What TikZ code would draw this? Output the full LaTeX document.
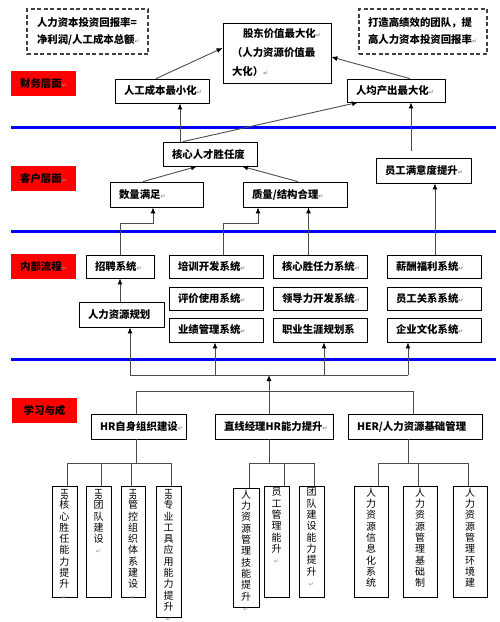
\documentclass[tikz,border=0pt]{standalone}
\usepackage{fontspec}
\usepackage{graphicx}
\setmainfont{Noto Sans CJK SC}
\newfontfamily\dvs{DejaVu Sans}
\usetikzlibrary{arrows.meta,calc}
\definecolor{lblue}{RGB}{0,0,255}
\newcommand\pmk{{\dvs\fontsize{6}{6}\selectfont\textcolor{black!45}{↵}}}
\newcommand\hrr{\rotatebox[origin=c]{-90}{\fontsize{9}{9}\selectfont HR}}
\newcommand\bx[6]{\node[box,minimum width={#4-#2},minimum height={#5-#3}] (#1) at ({(#2+#4)/2},{(#3+#5)/2}) {\makebox[\dimexpr #4pt-#2pt-18pt\relax][l]{#6}};}
\newcommand\lbx[6]{\node[lab,minimum width={#4-#2},minimum height={#5-#3}] (#1) at ({(#2+#4)/2},{(#3+#5)/2}) {#6};}
\newcommand\vbx[6]{\node[vbox,minimum width={#4-#2},minimum height={#5-#3}] (#1) at ({(#2+#4)/2},{(#3+#5)/2}) {\parbox[c][\dimexpr #5pt-#3pt-2pt\relax][t]{\dimexpr #4pt-#2pt\relax}{\centering\vspace*{1pt}#6}};}
\begin{document}
\begin{tikzpicture}[x=1pt,y=-1pt,
  box/.style={draw=black,line width=0.8pt,fill=white,inner sep=0pt,font=\bfseries\fontsize{10.4}{12}\selectfont},
  dbox/.style={draw=black!75,dash pattern=on 4pt off 2.5pt,line width=1.2pt,inner sep=0pt,font=\bfseries\fontsize{10.4}{17}\selectfont},
  lab/.style={fill=red,inner sep=0pt,font=\bfseries\fontsize{10.4}{12}\selectfont},
  vbox/.style={draw=black,line width=0.8pt,fill=white,inner sep=0pt,font=\fontsize{10}{11.3}\selectfont},
  conn/.style={draw=black!70,line width=0.9pt},
  arr/.style={conn,-{Latex[length=6pt,width=5pt,color=black]}},
  band/.style={draw=lblue,line width=3pt}]
\useasboundingbox (0,0) rectangle (500,622);
% blue bands
\coordinate (bL1) at (11,127); \coordinate (bR1) at (496,127);
\coordinate (bL2) at (11,231); \coordinate (bR2) at (496,231);
\coordinate (bL3) at (11,359); \coordinate (bR3) at (496,359);
\draw[band] (bL1) -- (bR1);
\draw[band] (bL2) -- (bR2);
\draw[band] (bL3) -- (bR3);
% helper levels
\coordinate (yA) at (0,223);
\coordinate (yB) at (0,375);
\coordinate (yC) at (0,391);
\coordinate (yD) at (0,463);
% dashed notes
\node[dbox,minimum width=121,minimum height=45,text width=101,align=left] (d1) at (87.5,31.5) {人力资本投资回报率=\\净利润/人工成本总额\pmk};
\node[dbox,minimum width=128,minimum height=45,text width=110,align=left] (d2) at (423,31.5) {打造高绩效的团队，提\\高人力资本投资回报率\pmk};
% top box
\node[box,minimum width=108,minimum height=60,text width=90,align=left,font=\bfseries\fontsize{10.4}{19}\selectfont] (gd) at (277,53) {\hspace*{11pt}股东价值最大化\pmk\\（人力资源价值最\\大化）\pmk};
% labels
\lbx{lab1}{11}{71}{76}{96}{财务层面\pmk}
\lbx{lab2}{11}{166}{76}{191}{客户层面\pmk}
\lbx{lab3}{11}{254}{76}{279}{内部流程\pmk}
\lbx{lab4}{12}{398}{77}{423}{学习与成}
% boxes
\bx{rgcb}{115}{79}{209}{103}{人工成本最小化\pmk}
\bx{rjcc}{347}{79}{445}{102}{人均产出最大化\pmk}
\bx{hxrc}{163}{142}{257}{166}{核心人才胜任度}
\bx{slmz}{110}{182}{203}{207}{数量满足\pmk}
\bx{zljg}{243}{182}{347}{207}{质量/结构合理\pmk}
\bx{ygmy}{376}{158}{471}{183}{员工满意度提升\pmk}
\bx{zp}{86}{255}{154}{278}{招聘系统\pmk}
\bx{px}{169}{255}{263}{278}{培训开发系统\pmk}
\bx{pj}{169}{287}{263}{310}{评价使用系统\pmk}
\bx{yj}{169}{318}{263}{342}{业绩管理系统\pmk}
\bx{hxs}{273}{255}{367}{278}{核心胜任力系统\pmk}
\bx{ld}{273}{287}{367}{310}{领导力开发系统\pmk}
\bx{zy}{273}{318}{367}{342}{职业生涯规划系}
\bx{xc}{387}{255}{481}{278}{薪酬福利系统\pmk}
\bx{yg}{387}{287}{481}{310}{员工关系系统\pmk}
\bx{qy}{387}{318}{481}{342}{企业文化系统\pmk}
\bx{gh}{79}{302}{164}{327}{人力资源规划}
\bx{hrz}{91}{414}{186}{439}{HR自身组织建设\pmk}
\bx{zx}{215}{414}{333}{439}{直线经理HR能力提升\pmk}
\bx{her}{348}{414}{482}{439}{HER/人力资源基础管理}
% vertical boxes
\vbx{b1}{52}{486}{77}{597}{\hrr\\核\\心\\胜\\任\\能\\力\\提\\升\\\pmk}
\vbx{b2}{86}{486}{111}{597}{\hrr\\团\\队\\建\\设\\\pmk}
\vbx{b3}{121}{486}{145}{597}{\hrr\\管\\控\\组\\织\\体\\系\\建\\设\\\pmk}
\vbx{b4}{156}{486}{181}{617}{\hrr\\专\\业\\工\\具\\应\\用\\能\\力\\提\\升\\\pmk}
\vbx{m1}{233}{488}{259}{607}{人\\力\\资\\源\\管\\理\\技\\能\\提\\升\\\pmk}
\vbx{m2}{264}{486}{289}{597}{员\\工\\管\\理\\能\\升\\\pmk}
\vbx{m3}{299}{486}{324}{597}{团\\队\\建\\设\\能\\力\\提\\升\\\pmk}
\vbx{r1}{354}{486}{388}{597}{人\\力\\资\\源\\信\\息\\化\\系\\统}
\vbx{r2}{403}{486}{437}{597}{人\\力\\资\\源\\管\\理\\基\\础\\制}
\vbx{r3}{453}{486}{487}{597}{人\\力\\资\\源\\管\\理\\环\\境\\建}
% top connectors
\draw[arr] ([xshift=-6pt]rgcb.north) -- ([yshift=5pt]gd.west);
\draw[arr] ([xshift=14pt]rjcc.north) -- ([yshift=-4pt]gd.east);
\draw[arr] ([xshift=-30pt]hxrc.north) -- ([xshift=18pt]rgcb.south);
\draw[arr] ([xshift=-27pt]hxrc.north) -- ([xshift=-38pt]rjcc.south);
\draw[arr] ([xshift=-12.5pt,yshift=7pt]ygmy.north) -- ([xshift=15pt]rjcc.south);
\draw[arr] ([xshift=-13.5pt]slmz.north) -- ([xshift=-13pt]hxrc.south);
\draw[arr] ([xshift=3pt]zljg.north) -- ([xshift=32pt]hxrc.south);
% process to customer
\draw[arr] (zp.north) -- (zp.north |- yA) -| ([xshift=-3.5pt]slmz.south);
\draw[arr] ([xshift=7pt]px.north) -- ([xshift=7pt]px.north |- yA) -| ([xshift=-37pt]zljg.south);
\draw[arr] ([xshift=-11.5pt]hxs.north) -- ([xshift=13.5pt]zljg.south);
\draw[arr] ([xshift=1pt]xc.north) -- ([xshift=11.5pt]ygmy.south);
\draw[arr] ([xshift=-1.5pt]gh.north) -- (zp.south);
% learning to process
\draw[conn] ([xshift=8.5pt]gh.south |- yB) -- ([xshift=-26pt]qy.south |- yB);
\draw[arr] ([xshift=8.5pt]gh.south |- yB) -- ([xshift=8.5pt]gh.south);
\draw[arr] ([xshift=-1pt]yj.south |- yB) -- ([xshift=-1pt]yj.south);
\draw[arr] ([xshift=4pt]zy.south |- yB) -- ([xshift=4pt]zy.south);
\draw[arr] ([xshift=-26pt]qy.south |- yB) -- ([xshift=-26pt]qy.south);
\draw[arr] ([xshift=-5pt]zx.north) -- ([xshift=-5pt]zx.north |- yB);
\draw[conn] ([xshift=-2.5pt]hrz.north) -- ([xshift=-2.5pt]hrz.north |- yC) -- ([xshift=-2pt]her.north |- yC) -- ([xshift=-2pt]her.north);
% lower groups
\draw[conn] ([xshift=-2.5pt]hrz.south) -- ([xshift=-2.5pt]hrz.south |- yD);
\draw[conn] ([xshift=2.5pt]b1.north |- yD) -- ([xshift=2.5pt]b4.north |- yD);
\draw[conn] ([xshift=2.5pt]b1.north |- yD) -- ([xshift=2.5pt]b1.north);
\draw[conn] ([xshift=2.5pt]b2.north |- yD) -- ([xshift=2.5pt]b2.north);
\draw[conn] ([xshift=-2pt]b3.north |- yD) -- ([xshift=-2pt]b3.north);
\draw[conn] ([xshift=2.5pt]b4.north |- yD) -- ([xshift=2.5pt]b4.north);
\draw[conn] ([xshift=-5pt]zx.south) -- ([xshift=-5pt]zx.south |- yD);
\draw[conn] ([xshift=3pt]m1.north |- yD) -- ([xshift=2.5pt]m3.north |- yD);
\draw[conn] ([xshift=3pt]m1.north |- yD) -- ([xshift=3pt]m1.north);
\draw[conn] ([xshift=7.5pt]m2.north |- yD) -- ([xshift=7.5pt]m2.north);
\draw[conn] ([xshift=2.5pt]m3.north |- yD) -- ([xshift=2.5pt]m3.north);
\draw[conn] ([xshift=-7pt]her.south) -- ([xshift=-7pt]her.south |- yD);
\draw[conn] ([xshift=7pt]r1.north |- yD) -- ([xshift=-2pt]r3.north |- yD);
\draw[conn] ([xshift=7pt]r1.north |- yD) -- ([xshift=7pt]r1.north);
\draw[conn] ([xshift=-2pt]r2.north |- yD) -- ([xshift=-2pt]r2.north);
\draw[conn] ([xshift=-2pt]r3.north |- yD) -- ([xshift=-2pt]r3.north);
\end{tikzpicture}
\end{document}
